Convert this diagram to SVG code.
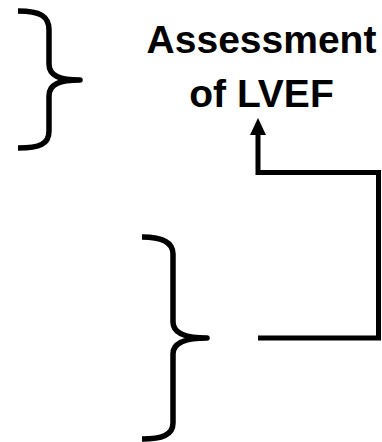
<svg xmlns="http://www.w3.org/2000/svg" width="382" height="442" viewBox="0 0 382 442">
  <style>
    .brace { fill: none; stroke: #000; stroke-width: 5.5; stroke-linecap: butt; stroke-linejoin: round; }
    .link { fill: none; stroke: #000; stroke-width: 5; stroke-linejoin: miter; }
    .label { font-family: "Liberation Sans", Arial, sans-serif; font-weight: bold; font-size: 39px; fill: #000; text-anchor: middle; }
  </style>
  <defs>
    <!-- filled triangle pointing along the path direction, base at the line end -->
    <marker id="arrowhead" markerUnits="userSpaceOnUse" markerWidth="17" markerHeight="16" refX="0" refY="8" orient="auto" viewBox="0 0 17 16">
      <path d="M0 0 L17 8 L0 16 Z" fill="#000"/>
    </marker>
  </defs>

  <!-- upper brace -->
  <g id="brace-top">
    <path class="brace" d="M18 11 C40 11 49 16 49 30 L49 64 C49 76 60 80 80 80 C60 80 49 84 49 96 L49 131 C49 144 40 148 18 148"/>
  </g>

  <!-- lower brace -->
  <g id="brace-bottom">
    <path class="brace" d="M142 237 C162 237 173 242 173 254 L173 322 C173 334 186 338 207 338 C186 338 173 342 173 354 L173 423 C173 435 162 439 142 439"/>
  </g>

  <!-- title node -->
  <g id="lvef-assessment">
    <text class="label" x="261.5" y="53">Assessment</text>
    <text class="label" x="261.5" y="107">of LVEF</text>
  </g>

  <!-- connector from lower brace up to the title -->
  <g id="connectors">
    <path class="link" d="M258 338 L378.5 338 L378.5 172.5 L258 172.5 L258 135" marker-end="url(#arrowhead)"/>
  </g>
</svg>
